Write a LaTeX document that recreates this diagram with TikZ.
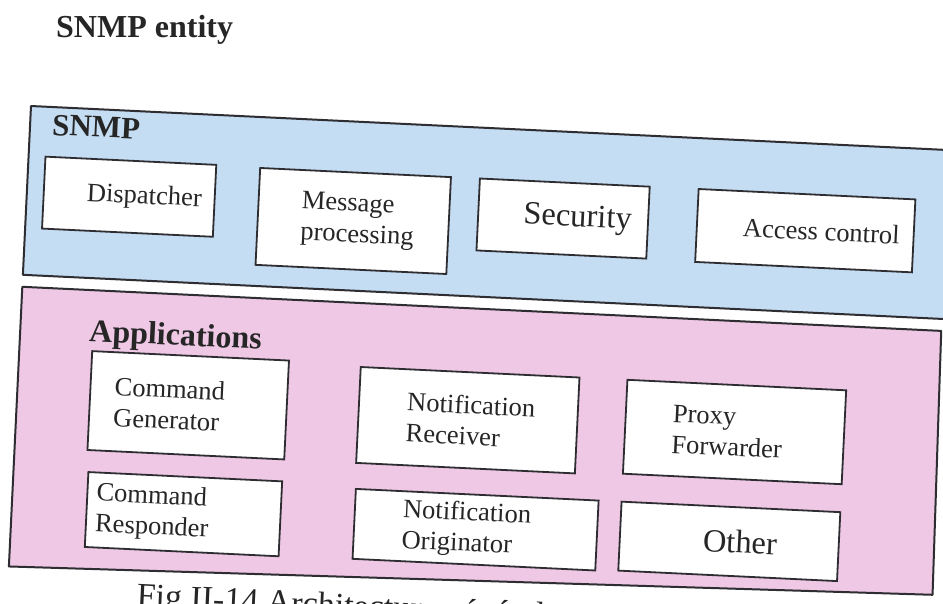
\documentclass[tikz,border=0pt]{standalone}
\usepackage{fontspec}
\setmainfont{Liberation Serif}
\usetikzlibrary{calc}
\definecolor{snmpblue}{RGB}{197,221,242}
\definecolor{apppink}{RGB}{239,200,230}
\definecolor{edge}{RGB}{45,45,50}
\tikzset{
  layer/.style={draw=edge,line width=2pt,line join=round},
  unit/.style={draw=edge,fill=white,line width=1.8pt,anchor=north west,inner sep=0pt},
  txt/.style={font=\fontsize{26.5}{31}\selectfont,align=left,anchor=west,inner sep=0pt,text=black!85},
  bigtxt/.style={txt,font=\fontsize{32.5}{36}\selectfont},
  headtxt/.style={txt,font=\bfseries\fontsize{32}{36}\selectfont,anchor=base west}
}

\begin{document}
\begin{tikzpicture}[x=1pt,y=1pt]
  \useasboundingbox (-31,106) rectangle (912,-497);
  \clip (-31,106) rectangle (912,-497);
  \fill[white] (-31,106) rectangle (912,-497);

  % title
  \node[headtxt] (entity) at (25,69) {SNMP entity};

  \begin{scope}[rotate=-2.75,transform shape]
    % SNMP engine
    \draw[layer,fill=snmpblue] (0,0) rectangle (990,-169);
    \node[headtxt,font=\bfseries\fontsize{31}{35}\selectfont] (snmp) at (22,-28) {SNMP};

    \node[unit,minimum width=171pt,minimum height=72pt] (disp) at (16,-49) {};
    \node[unit,minimum width=191pt,minimum height=97pt] (msg) at (231,-50) {};
    \node[unit,minimum width=170pt,minimum height=72pt] (sec) at (451,-50) {};
    \node[unit,minimum width=217pt,minimum height=73pt] (acc) at (670,-50) {};

    \node[txt] (disp-t) at ($(disp.west)+(44,0)$) {Dispatcher};
    \node[txt] (msg-t) at ($(msg.west)+(44,0)$) {Message\\processing};
    \node[bigtxt] (sec-t) at ($(sec.west)+(46,0)$) {Security};
    \node[txt] (acc-t) at ($(acc.west)+(47,0)$) {Access control};

    % applications
    \draw[layer,fill=apppink] (0,-181) -- (920,-181) -- (924,-445) -- (0,-461) -- cycle;
    \node[headtxt] (apps) at (69,-232) {Applications};

    \node[unit,minimum width=197pt,minimum height=99pt] (cg) at (72,-241) {};
    \node[unit,minimum width=219pt,minimum height=96pt] (nr) at (341,-244) {};
    \node[unit,minimum width=219pt,minimum height=94pt] (pf) at (608,-244) {};
    \node[unit,minimum width=194pt,minimum height=75pt] (cr) at (74,-362) {};
    \node[unit,minimum width=243pt,minimum height=70pt] (no) at (342,-366) {};
    \node[unit,minimum width=219pt,minimum height=69pt] (ot) at (608,-366) {};

    \node[txt] (cg-t) at ($(cg.west)+(25,0)$) {Command\\Generator};
    \node[txt] (nr-t) at ($(nr.west)+(49,0)$) {Notification\\Receiver};
    \node[txt] (pf-t) at ($(pf.west)+(48,0)$) {Proxy\\Forwarder};
    \node[txt] (cr-t) at ($(cr.west)+(10,0)$) {Command\\Responder};
    \node[txt] (no-t) at ($(no.west)+(49,0)$) {Notification\\Originator};
    \node[bigtxt] (ot-t) at ($(ot.west)+(84,0)$) {Other};

    % caption
    \node[txt,font=\fontsize{34}{38}\selectfont,anchor=base west] (caption) at (129,-495) {Fig II-14 Architecture générale};
  \end{scope}
\end{tikzpicture}
\end{document}
